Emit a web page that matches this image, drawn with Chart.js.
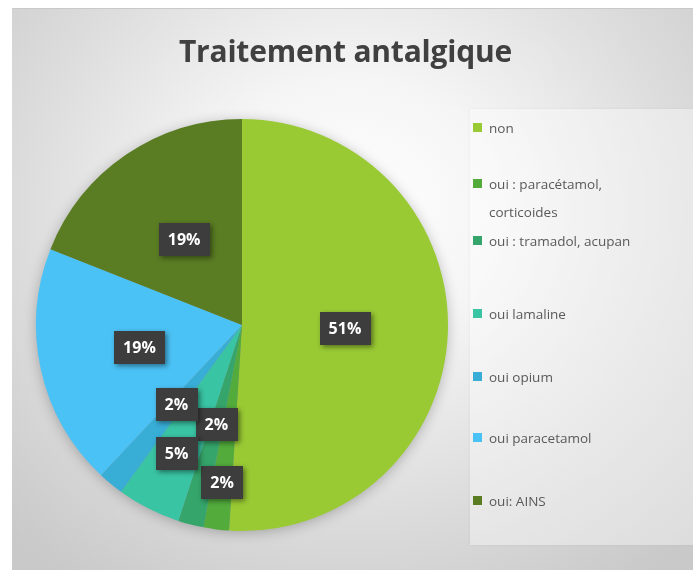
<!DOCTYPE html>
<html>
<head>
<meta charset="utf-8">
<script src="https://cdn.jsdelivr.net/npm/chart.js@4/dist/chart.umd.min.js"></script>
<style>
  html, body { margin: 0; padding: 0; background: #ffffff; }
  body { width: 693px; height: 570px; position: relative; overflow: hidden; font-family: "Open Sans", sans-serif; }
  #frame {
    position: absolute; left: 12px; top: 8px; width: 681px; height: 562px;
    background: radial-gradient(ellipse 72% 80% at 50% 36%, #ffffff 0%, #f5f5f5 30%, #dcdcdc 68%, #c9c9c9 100%);
    border-top: 1px solid #c9c9c9; box-sizing: border-box;
  }
  #title {
    position: absolute; left: 0; width: 667px; top: 22px; text-align: center;
    font-family: "Open Sans", sans-serif; font-weight: 700; font-size: 30px; color: #404040;
    line-height: 40px; margin: 0; letter-spacing: -0.2px;
  }
  #legendPanel {
    position: absolute; left: 458px; top: 100px; width: 223px; height: 436px;
    background: rgba(255,255,255,0.38);
    box-shadow: 0 0 3px rgba(0,0,0,0.06);
  }
  #c { position: absolute; left: 0; top: 0; }
  .lg { position: absolute; left: 0; font-size: 13.5px; color: #595959; line-height: 28px; }
  .lg .sw { position: absolute; left: 0; width: 9px; height: 9px; }
  .lg .tx { position: absolute; left: 16px; white-space: nowrap; }
</style>
</head>
<body>
<div id="frame">
  <div id="legendPanel"></div>
  <canvas id="c" width="681" height="562"></canvas>
  <div id="title">Traitement antalgique</div>
  <div id="legend"></div>
</div>
<script>
// ---- data ----
const titleText = "Traitement antalgique";
const categories = [
  "non",
  ["oui : paracétamol,", "corticoides"],
  "oui : tramadol, acupan",
  "oui lamaline",
  "oui opium",
  "oui paracetamol",
  "oui: AINS"
];
const values = [51, 2, 2, 5, 2, 19, 19];
const colors = ["#99CA34", "#52AB3B", "#35A56B", "#39C4A3", "#38ADD6", "#4BC2F5", "#5A7C23"];

// ---- layout / style constants ----
const labelRadiusFrac = [0.5, 0.77, 0.5, 0.7, 0.5, 0.51, 0.5];
const legendRowY = [119, 189, 232, 305, 368, 429, 492]; // center y of each legend entry within frame
const legendLeft = 461;

// legend (HTML)
const legendEl = document.getElementById('legend');
categories.forEach((cat, i) => {
  const lines = Array.isArray(cat) ? cat : [cat];
  const row = document.createElement('div');
  row.className = 'lg';
  const h = lines.length * 28;
  row.style.left = legendLeft + 'px';
  row.style.top = (legendRowY[i] - h / 2) + 'px';
  row.style.height = h + 'px';
  const sw = document.createElement('div');
  sw.className = 'sw';
  sw.style.background = colors[i];
  sw.style.top = (14 - 5) + 'px';
  row.appendChild(sw);
  const tx = document.createElement('div');
  tx.className = 'tx';
  tx.innerHTML = lines.map(l => l.replace(/&/g, '&amp;')).join('<br>');
  row.appendChild(tx);
  legendEl.appendChild(row);
});

const total = values.reduce((a, b) => a + b, 0);

const pieShadow = {
  id: 'pieShadow',
  beforeDatasetsDraw(chart) {
    const arc = chart.getDatasetMeta(0).data[0];
    if (!arc) return;
    const p = arc.getProps(['x', 'y', 'outerRadius'], true);
    const ctx = chart.ctx;
    ctx.save();
    ctx.shadowColor = 'rgba(0,0,0,0.28)';
    ctx.shadowBlur = 14;
    ctx.shadowOffsetX = 0;
    ctx.shadowOffsetY = 2;
    ctx.beginPath();
    ctx.arc(p.x, p.y, p.outerRadius - 1, 0, Math.PI * 2);
    ctx.fillStyle = '#999';
    ctx.fill();
    ctx.restore();
  }
};

const boxLabels = {
  id: 'boxLabels',
  afterDatasetsDraw(chart) {
    const ctx = chart.ctx;
    const meta = chart.getDatasetMeta(0);
    meta.data.forEach((arc, i) => {
      const p = arc.getProps(['x', 'y', 'startAngle', 'endAngle', 'outerRadius'], true);
      const mid = (p.startAngle + p.endAngle) / 2;
      const r = p.outerRadius * labelRadiusFrac[i];
      const cx = p.x + Math.cos(mid) * r;
      const cy = p.y + Math.sin(mid) * r;
      const text = Math.round(values[i] / total * 100) + '%';
      ctx.save();
      ctx.font = 'bold 16px "Open Sans", sans-serif';
      const tw = ctx.measureText(text).width;
      const bw = tw + 18, bh = 33;
      ctx.shadowColor = 'rgba(0,0,0,0.45)';
      ctx.shadowBlur = 5;
      ctx.shadowOffsetX = 2;
      ctx.shadowOffsetY = 2;
      ctx.fillStyle = '#3d3d3d';
      ctx.fillRect(Math.round(cx - bw / 2), Math.round(cy - bh / 2), Math.round(bw), bh);
      ctx.shadowColor = 'transparent';
      ctx.fillStyle = '#ffffff';
      ctx.textAlign = 'center';
      ctx.textBaseline = 'middle';
      ctx.fillText(text, cx, cy + 1);
      ctx.restore();
    });
  }
};

new Chart(document.getElementById('c'), {
  type: 'pie',
  data: {
    labels: categories,
    datasets: [{
      data: values,
      backgroundColor: colors,
      borderWidth: 0,
      hoverBorderWidth: 0,
      hoverOffset: 0
    }]
  },
  options: {
    responsive: false,
    animation: false,
    events: [],
    layout: { padding: { left: 24, top: 110, right: 245, bottom: 40 } },
    plugins: {
      legend: { display: false },
      title: { display: false },
      tooltip: { enabled: false }
    }
  },
  plugins: [pieShadow, boxLabels]
});
</script>
</body>
</html>
